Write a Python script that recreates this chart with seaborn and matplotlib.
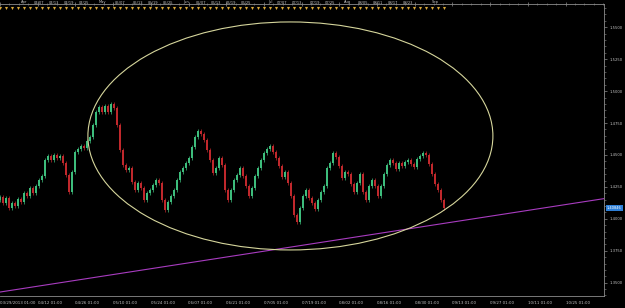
import numpy as np
import pandas as pd
import matplotlib
matplotlib.use("Agg")
import matplotlib.pyplot as plt
import matplotlib.transforms as mtransforms
from matplotlib.patches import Ellipse
from matplotlib.ticker import MultipleLocator, AutoMinorLocator
import seaborn as sns

# ---------------- data ----------------
closes = [
    1.4172, 1.4125, 1.4164, 1.4086, 1.4125, 1.4102, 1.4156, 1.4133, 1.4203, 1.4180,
    1.4242, 1.4203, 1.4258, 1.4305, 1.4336, 1.4461, 1.4492, 1.4461, 1.4500, 1.4477,
    1.4492, 1.4438, 1.4344, 1.4211, 1.4367, 1.4523, 1.4547, 1.4570, 1.4555, 1.4609,
    1.4641, 1.4734, 1.4836, 1.4875, 1.4836, 1.4883, 1.4836, 1.4898, 1.4867, 1.4734,
    1.4539, 1.4422, 1.4383, 1.4398, 1.4289, 1.4227, 1.4281, 1.4242, 1.4148, 1.4203,
    1.4227, 1.4266, 1.4305, 1.4281, 1.4148, 1.4070, 1.4133, 1.4180, 1.4227, 1.4305,
    1.4367, 1.4398, 1.4438, 1.4477, 1.4563, 1.4641, 1.4688, 1.4664, 1.4617, 1.4539,
    1.4461, 1.4359, 1.4398, 1.4477, 1.4422, 1.4227, 1.4148, 1.4227, 1.4305, 1.4344,
    1.4398, 1.4336, 1.4258, 1.4180, 1.4242, 1.4336, 1.4398, 1.4461, 1.4516, 1.4547,
    1.4570, 1.4523, 1.4477, 1.4414, 1.4328, 1.4367, 1.4281, 1.4180, 1.4031, 1.3977,
    1.4086, 1.4180, 1.4227, 1.4164, 1.4125, 1.4078, 1.4148, 1.4211, 1.4258, 1.4398,
    1.4438, 1.4516, 1.4484, 1.4414, 1.4320, 1.4367, 1.4352, 1.4273, 1.4211, 1.4281,
    1.4352, 1.4211, 1.4148, 1.4258, 1.4305, 1.4258, 1.4180, 1.4258, 1.4352, 1.4422,
    1.4461, 1.4438, 1.4391, 1.4438, 1.4414, 1.4445, 1.4461, 1.4430, 1.4406, 1.4469,
    1.4492, 1.4516, 1.4500, 1.4430, 1.4352, 1.4273, 1.4227, 1.4148, 1.4085,
]
first_open = 1.4150
last_price_label = "1.40846"

price_ticks = [1.3500, 1.3750, 1.4000, 1.4250, 1.4500, 1.4750, 1.5000, 1.5250, 1.5500]
bottom_labels = ["03/29/2013 01:00", "04/12 01:00", "04/26 01:00", "05/10 01:00",
                 "05/24 01:00", "06/07 01:00", "06/21 01:00", "07/05 01:00",
                 "07/19 01:00", "08/02 01:00", "08/16 01:00", "08/30 01:00",
                 "09/13 01:00", "09/27 01:00", "10/11 01:00", "10/25 01:00"]
top_labels = ["Apr", "04/07", "04/13", "04/19", "04/25", "May", "05/07", "05/13",
              "05/19", "05/25", "Jun", "06/07", "06/13", "06/19", "06/25", "Jul",
              "07/07", "07/13", "07/19", "07/25", "Aug", "08/05", "08/11", "08/17",
              "08/23", "Sep"]
top_label_bar = [8, 13, 18, 23, 28, 34, 40, 46, 51, 56, 62, 67, 72, 77, 82, 90,
                 94, 99, 105, 110, 116, 121, 126, 131, 136, 145]

# hand-drawn objects on the chart
trend_x = [0.0, 200.7]
trend_y = [1.3427, 1.4156]
ellipse_center = (96.8, 1.4649)
ellipse_size = (135.0, 0.1785)

# ---------------- build OHLC ----------------
df = pd.DataFrame({"close": closes})
df["bar"] = np.arange(len(df))
df["open"] = df["close"].shift(1).fillna(first_open)
wick = 0.0018
df["high"] = df[["open", "close"]].max(axis=1) + wick
df["low"] = df[["open", "close"]].min(axis=1) - wick
df["up"] = df["close"] >= df["open"]

BULL = "#3dbd7c"
BEAR = "#c0282c"
GRID = "#8c8c8c"
TXT = "#c4c4c4"

sns.set_theme(style="dark", rc={
    "axes.facecolor": "black", "figure.facecolor": "black",
    "savefig.facecolor": "black", "axes.edgecolor": GRID,
    "xtick.color": GRID, "ytick.color": GRID,
})
plt.rcParams["font.family"] = ["DejaVu Sans"]

W, H = 625, 308
fig = plt.figure(figsize=(W / 100, H / 100), dpi=100)
ax = fig.add_axes([0, 12 / H, 604 / W, 292 / H])
ax.set_facecolor("black")

colors = np.where(df["up"], BULL, BEAR)
ax.vlines(df["bar"], df["low"], df["high"], colors=colors, lw=0.5, zorder=3)
body_bottom = df[["open", "close"]].min(axis=1)
body_h = (df["close"] - df["open"]).abs().clip(lower=0.0004)
ax.bar(df["bar"], body_h, bottom=body_bottom, width=0.45, color=colors,
       linewidth=0, zorder=3)

# trend line (ray) and ellipse
ax.axline((trend_x[0], trend_y[0]), (trend_x[1], trend_y[1]),
          color="#a83cc0", lw=0.8, zorder=4)
ax.add_patch(Ellipse(ellipse_center, ellipse_size[0], ellipse_size[1],
                     fill=False, ec="#d6d69c", lw=0.8, zorder=4))

ax.set_xlim(0, 604 / 3)
ax.set_ylim(1.3396, 1.5682)

# right price axis
ax.yaxis.tick_right()
ax.set_yticks(price_ticks)
ax.set_yticklabels([f"{v:.4f}" for v in price_ticks])
ax.yaxis.set_minor_locator(MultipleLocator(0.005))
ax.tick_params(axis="y", which="major", length=2.2, width=0.5, pad=1.5,
               labelsize=2.7, labelcolor=TXT, colors=GRID, right=True, left=False)
ax.tick_params(axis="y", which="minor", length=1.2, width=0.4, colors=GRID,
               right=True, left=False)

# bottom time axis
step = 37.7 / 3
ax.set_xticks([k * step for k in range(len(bottom_labels))])
ax.set_xticklabels(bottom_labels, ha="left")
ax.xaxis.set_minor_locator(AutoMinorLocator(4))
ax.tick_params(axis="x", which="major", length=3, width=0.5, direction="inout",
               pad=2.0, labelsize=2.9, labelcolor=TXT, colors=GRID, top=True)
ax.tick_params(axis="x", which="minor", length=1.2, width=0.4, direction="inout",
               colors=GRID, top=True)
ax.grid(False)

ax.spines["left"].set_visible(False)
for side in ["bottom", "right", "top"]:
    ax.spines[side].set_color(GRID)
    ax.spines[side].set_linewidth(0.6)

# top date strip with markers
trans = mtransforms.blended_transform_factory(ax.transData, ax.transAxes)
tri_bars = df["bar"][::2]
ax.scatter(tri_bars, np.full(len(tri_bars), 1 - 3.5 / 292), marker="v", s=5,
           color="#d8a83a", linewidths=0, transform=trans, clip_on=False, zorder=5)
for lab, b in zip(top_labels, top_label_bar):
    ax.text(b, 1 + 1.5 / 292, lab, transform=trans, fontsize=2.6, color=TXT,
            ha="center", va="center", clip_on=False)

# current price box
ptrans = mtransforms.blended_transform_factory(ax.transAxes, ax.transData)
ax.text(1 + 3 / 604, df["close"].iloc[-1], last_price_label, transform=ptrans,
        fontsize=2.6, color="white", ha="left", va="center", clip_on=False,
        bbox=dict(boxstyle="square,pad=0.25", fc="#2d7fd8", ec="none"))

fig.savefig("out.png", dpi=100, facecolor="black")
